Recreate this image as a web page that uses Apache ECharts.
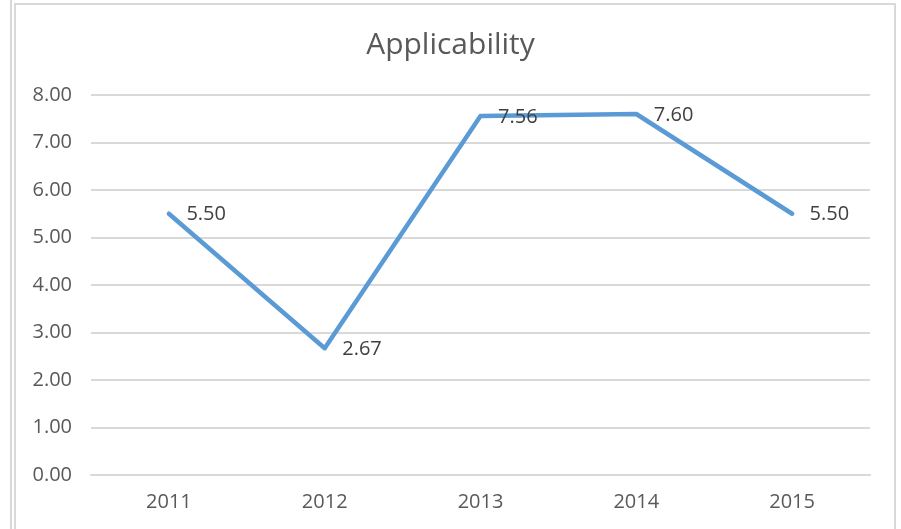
<!DOCTYPE html>
<html>
<head>
<meta charset="utf-8">
<style>
  html, body { margin: 0; padding: 0; background: #fff; }
  #chart { width: 901px; height: 529px; }
</style>
<script src="https://cdn.jsdelivr.net/npm/echarts@6/dist/echarts.min.js"></script>
</head>
<body>
<div id="chart"></div>
<script>
// Applicability score per year
const years = ['2011', '2012', '2013', '2014', '2015'];
const applicability = [5.50, 2.67, 7.56, 7.60, 5.50];
const yTicks = { min: 0, max: 8, interval: 1 };

const FONT = 'Open Sans, Calibri, sans-serif';
const chart = echarts.init(document.getElementById('chart'), null, { renderer: 'canvas' });

chart.setOption({
  backgroundColor: '#ffffff',
  animation: false,
  title: {
    text: 'Applicability',
    left: 'center',
    top: 25,
    textStyle: {
      fontFamily: FONT,
      fontSize: 30,
      fontWeight: 'normal',
      color: '#595959'
    }
  },
  // Frame lines around the chart area
  graphic: [
    { type: 'rect', shape: { x: 15, y: 4, width: 880, height: 540 },
      style: { fill: 'none', stroke: '#d9d9d9', lineWidth: 2 }, silent: true },
    { type: 'line', shape: { x1: 11, y1: 0, x2: 11, y2: 529 },
      style: { stroke: '#d9d9d9', lineWidth: 2 }, silent: true }
  ],
  grid: { left: 91, right: 31, top: 95, bottom: 54, containLabel: false },
  xAxis: {
    type: 'category',
    data: years,
    boundaryGap: true,
    axisLine: { show: true, lineStyle: { color: '#d9d9d9', width: 2 } },
    axisTick: { show: false },
    axisLabel: {
      margin: 17,
      color: '#595959',
      fontSize: 20,
      fontFamily: FONT
    }
  },
  yAxis: {
    type: 'value',
    min: yTicks.min,
    max: yTicks.max,
    interval: yTicks.interval,
    axisLine: { show: false },
    axisTick: { show: false },
    splitLine: { lineStyle: { color: '#d9d9d9', width: 2 } },
    axisLabel: {
      margin: 19,
      color: '#595959',
      fontSize: 20,
      fontFamily: FONT,
      formatter: v => v.toFixed(2)
    }
  },
  series: [{
    type: 'line',
    data: applicability,
    symbol: 'circle',
    symbolSize: 1,
    itemStyle: { color: '#5b9bd5' },
    lineStyle: { color: '#5b9bd5', width: 4.5, cap: 'round', join: 'round' },
    label: {
      show: true,
      position: 'right',
      distance: 17,
      offset: [0, 1],
      color: '#404040',
      fontSize: 20,
      fontFamily: FONT,
      formatter: p => p.value.toFixed(2)
    }
  }]
});
</script>
</body>
</html>
